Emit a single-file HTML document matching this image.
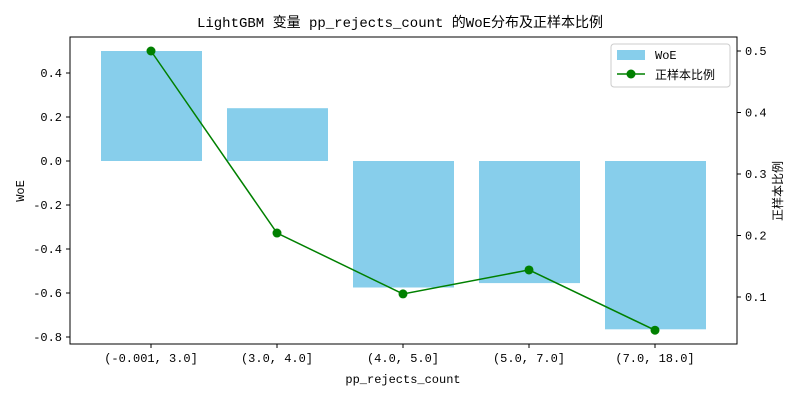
<!DOCTYPE html>
<html><head><meta charset="utf-8"><style>
body{margin:0;background:#fff}
svg text{font-family:"Liberation Mono","Noto Sans CJK SC",monospace;font-size:12px;fill:#000}
</style></head><body>
<svg id="c" width="800" height="400">
<text x="400" y="27" text-anchor="middle" style="font-size:14px">LightGBM 变量 pp_rejects_count 的WoE分布及正样本比例</text>
<g id="bars"></g><g id="line"></g>
<rect x="70" y="37" width="667" height="307" fill="none" stroke="#000"/>
<g id="axes"></g>
<text x="403" y="383" text-anchor="middle">pp_rejects_count</text>
<text transform="translate(24,191) rotate(-90)" text-anchor="middle">WoE</text>
<text transform="translate(782,191) rotate(-90)" text-anchor="middle">正样本比例</text>
<g>
<rect x="611" y="44" width="119" height="43" rx="3" fill="#fff" fill-opacity="0.8" stroke="#ccc"/>
<rect x="617" y="50" width="28" height="10" fill="#87ceeb"/>
<text x="655" y="59">WoE</text>
<line x1="617" y1="74" x2="645" y2="74" stroke="green" stroke-width="1.5"/>
<circle cx="631" cy="74" r="4.5" fill="green"/>
<text x="655" y="79">正样本比例</text>
</g>
</svg>
<script>
const categories=["(-0.001, 3.0]","(3.0, 4.0]","(4.0, 5.0]","(5.0, 7.0]","(7.0, 18.0]"];
const woeValues=[0.50,0.24,-0.575,-0.555,-0.765];
const ratioValues=[0.50,0.204,0.105,0.144,0.046];
const leftTicks=[-0.8,-0.6,-0.4,-0.2,0.0,0.2,0.4];
const rightTicks=[0.1,0.2,0.3,0.4,0.5];
const NS="http://www.w3.org/2000/svg";
const x=i=>151+126*i;
const yL=v=>161-220*v;
const yR=v=>297-615*(v-0.1);
function mk(t,a,p){const e=document.createElementNS(NS,t);for(const k in a)e.setAttribute(k,a[k]);p.appendChild(e);return e;}
const bars=document.getElementById('bars'),line=document.getElementById('line'),axes=document.getElementById('axes');
woeValues.forEach((v,i)=>{
 const r=mk('rect',{x:x(i)-50,y:Math.min(yL(v),yL(0)),width:101,height:Math.abs(yL(v)-yL(0)),fill:'#87ceeb'},bars);
 
 
});
const pl=mk('polyline',{points:ratioValues.map((v,i)=>x(i)+','+yR(v)).join(' '),fill:'none',stroke:'green','stroke-width':1.5},line);


ratioValues.forEach((v,i)=>{
 const c=mk('circle',{cx:x(i),cy:yR(v),r:4.5,fill:'green'},line);
 
 
});
categories.forEach((c,i)=>{
 mk('line',{x1:x(i),y1:344,x2:x(i),y2:348,stroke:'#000'},axes);
 const t=mk('text',{x:x(i),y:362,'text-anchor':'middle'},axes);t.textContent=c;
 
 
});
leftTicks.forEach(v=>{
 mk('line',{x1:66,y1:yL(v),x2:70,y2:yL(v),stroke:'#000'},axes);
 const t=mk('text',{x:62,y:yL(v)+4,'text-anchor':'end'},axes);t.textContent=v.toFixed(1);
 
 
});
rightTicks.forEach(v=>{
 mk('line',{x1:737,y1:yR(v),x2:741,y2:yR(v),stroke:'#000'},axes);
 const t=mk('text',{x:745,y:yR(v)+4},axes);t.textContent=v.toFixed(1);
 
 
});
</script>
</body></html>
